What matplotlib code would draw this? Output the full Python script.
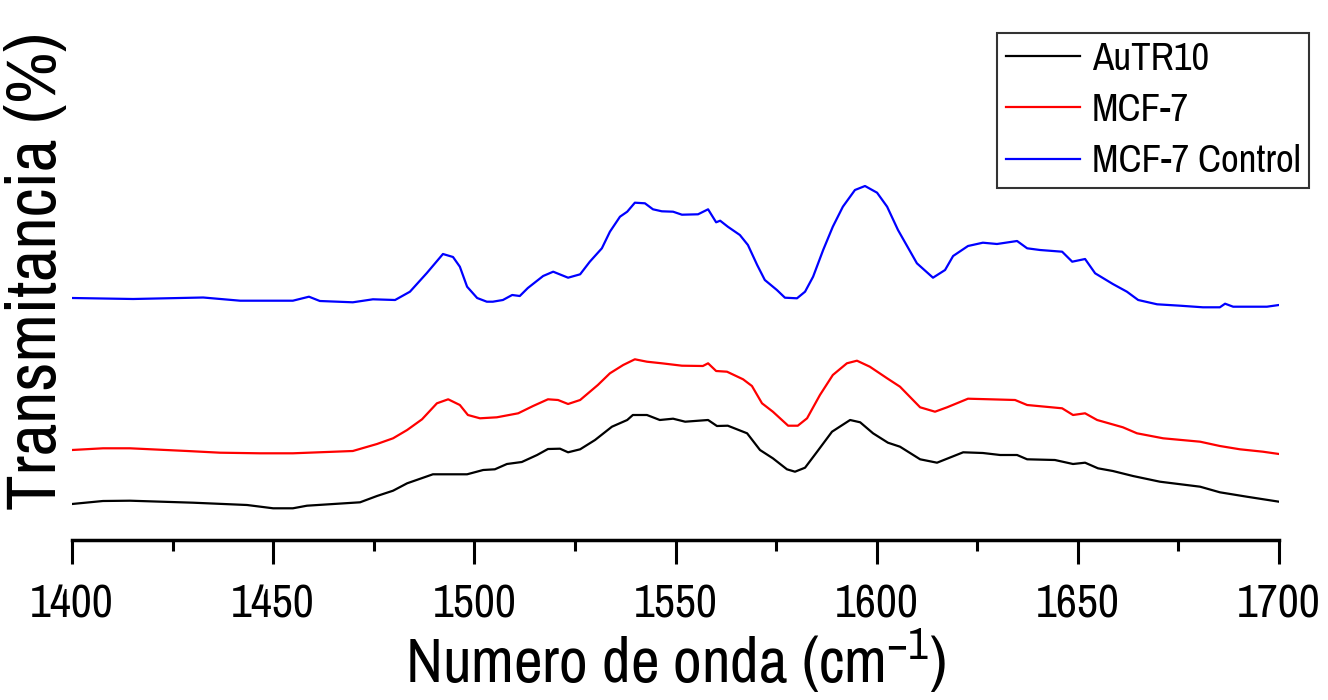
import matplotlib
matplotlib.use('Agg')
import matplotlib.pyplot as plt
from matplotlib.ticker import MultipleLocator

FONT = ['Archivo Narrow', 'Roboto Condensed', 'Liberation Sans', 'DejaVu Sans']
plt.rcParams['font.family'] = FONT

# numero de onda (cm-1) y transmitancia (unidades arbitrarias, con desplazamiento)
wn_ctrl = [1400, 1415.2, 1432.6, 1441.8, 1454.9, 1458.9, 1461.6, 1469.8, 1474.8, 1480.3,
           1484.0, 1488.2, 1492.2, 1494.7, 1496.4, 1498.2, 1500.7, 1503.1, 1504.6, 1507.1,
           1509.4, 1511.3, 1513.3, 1517.1, 1519.6, 1523.3, 1526.3, 1528.7, 1531.7, 1533.7,
           1536.2, 1538.0, 1539.9, 1542.4, 1544.4, 1546.6, 1549.4, 1551.6, 1555.6, 1558.1,
           1560.1, 1561.1, 1563.0, 1566.0, 1568.0, 1570.3, 1572.2, 1575.2, 1577.2, 1580.2,
           1582.2, 1584.2, 1586.7, 1589.1, 1591.6, 1594.6, 1597.1, 1600.1, 1602.6, 1605.3,
           1610.0, 1614.0, 1617.0, 1619.0, 1622.7, 1626.4, 1629.9, 1634.9, 1637.4, 1640.6,
           1646.1, 1648.6, 1651.8, 1654.3, 1658.7, 1662.2, 1665.0, 1669.7, 1675.4, 1681.1,
           1685.3, 1686.6, 1688.6, 1697.0, 1700]
t_ctrl = [24.2, 24.1, 24.25, 23.93, 23.93, 24.33, 23.9, 23.77, 24.07, 24.0,
          24.83, 26.7, 28.6, 28.3, 27.33, 25.33, 24.2, 23.83, 23.83, 24.0,
          24.5, 24.4, 25.2, 26.4, 26.83, 26.23, 26.57, 27.83, 29.17, 30.83,
          32.33, 32.83, 33.73, 33.67, 33.07, 32.87, 32.83, 32.53, 32.57, 33.07,
          31.77, 31.93, 31.33, 30.5, 29.5, 27.5, 26.0, 25.0, 24.23, 24.17,
          24.83, 26.33, 29.0, 31.33, 33.33, 35.0, 35.4, 34.73, 33.33, 31.0,
          27.67, 26.23, 27.0, 28.4, 29.4, 29.73, 29.6, 29.9, 29.17, 29.0,
          28.83, 27.83, 28.1, 26.67, 25.6, 24.83, 24.0, 23.57, 23.43, 23.27,
          23.27, 23.63, 23.33, 23.33, 23.5]

wn_mcf = [1400, 1407.7, 1414.4, 1428.6, 1436.8, 1446.7, 1454.9, 1469.8, 1475.8, 1479.8,
          1483.3, 1487.0, 1490.7, 1493.5, 1496.4, 1498.4, 1501.4, 1505.6, 1510.9, 1514.6,
          1518.3, 1520.8, 1523.3, 1526.3, 1530.7, 1533.7, 1537.0, 1539.9, 1542.9, 1546.6,
          1551.6, 1556.8, 1558.1, 1560.1, 1562.8, 1566.8, 1569.0, 1571.5, 1574.2, 1578.0,
          1580.4, 1582.7, 1585.9, 1589.1, 1592.6, 1595.1, 1598.3, 1602.6, 1605.8, 1610.8,
          1614.5, 1617.5, 1622.7, 1628.2, 1634.4, 1637.4, 1646.1, 1648.8, 1651.8, 1654.8,
          1661.2, 1664.7, 1671.2, 1680.4, 1685.3, 1690.3, 1696.0, 1700]
t_mcf = [9.0, 9.17, 9.17, 8.9, 8.73, 8.67, 8.67, 8.9, 9.6, 10.17,
         11.0, 12.07, 13.67, 14.07, 13.5, 12.5, 12.17, 12.27, 12.67, 13.4,
         14.07, 14.0, 13.6, 14.0, 15.5, 16.67, 17.5, 18.07, 17.83, 17.67,
         17.43, 17.4, 17.67, 16.9, 16.83, 16.07, 15.4, 13.67, 12.83, 11.43,
         11.43, 12.17, 14.5, 16.5, 17.67, 17.93, 17.33, 16.17, 15.33, 13.27,
         12.83, 13.27, 14.13, 14.07, 14.0, 13.5, 13.17, 12.5, 12.67, 12.0,
         11.27, 10.67, 10.17, 9.83, 9.4, 9.07, 8.83, 8.6]

wn_au = [1400, 1407.7, 1414.4, 1430.1, 1443.5, 1450.0, 1454.9, 1458.4, 1471.6, 1475.8,
         1479.8, 1483.3, 1489.7, 1498.2, 1502.2, 1505.1, 1508.1, 1511.8, 1515.6, 1518.3,
         1521.3, 1523.3, 1526.3, 1530.0, 1534.2, 1538.0, 1539.4, 1542.9, 1546.1, 1549.4,
         1552.4, 1558.1, 1560.3, 1563.0, 1567.8, 1571.0, 1574.2, 1577.7, 1579.7, 1582.2,
         1585.2, 1588.9, 1593.4, 1595.9, 1599.1, 1602.8, 1605.8, 1610.8, 1615.0, 1617.5,
         1621.5, 1626.4, 1630.7, 1634.9, 1637.4, 1644.3, 1648.8, 1651.8, 1655.0, 1658.7,
         1663.7, 1670.4, 1680.4, 1685.3, 1692.0, 1700]
t_au = [3.6, 3.9, 3.93, 3.73, 3.5, 3.17, 3.17, 3.43, 3.77, 4.4,
        4.93, 5.67, 6.57, 6.57, 7.0, 7.07, 7.6, 7.8, 8.5, 9.1,
        9.13, 8.77, 9.07, 10.0, 11.33, 12.0, 12.5, 12.5, 12.0, 12.13,
        11.83, 12.0, 11.4, 11.43, 10.67, 9.0, 8.17, 7.07, 6.83, 7.23,
        8.83, 10.83, 12.0, 11.77, 10.67, 9.73, 9.33, 8.07, 7.73, 8.13,
        8.77, 8.7, 8.5, 8.5, 8.07, 8.0, 7.6, 7.73, 7.17, 6.9,
        6.4, 5.83, 5.33, 4.77, 4.33, 3.83]

series = [
    (wn_au, t_au, 'AuTR10', 'black'),
    (wn_mcf, t_mcf, 'MCF-7', 'red'),
    (wn_ctrl, t_ctrl, 'MCF-7 Control', 'blue'),
]

fig = plt.figure(figsize=(13.28, 7), dpi=100)
ax = fig.add_axes([72 / 1328, 160 / 700, 1207 / 1328, 540 / 700])

for wn, t, lab, col in series:
    ax.plot(wn, t, color=col, lw=1.6, label=lab)

ax.set_xlim(1400, 1700)
ax.set_ylim(0, 54)
ax.xaxis.set_major_locator(MultipleLocator(50))
ax.xaxis.set_minor_locator(MultipleLocator(25))
ax.tick_params(axis='x', which='major', direction='out', length=17, width=2.2, pad=14,
               labelsize=33)
ax.tick_params(axis='x', which='minor', direction='out', length=8, width=2.2)
ax.set_yticks([])
for s in ['left', 'top', 'right']:
    ax.spines[s].set_visible(False)
ax.spines['bottom'].set_linewidth(2.5)

ax.set_xlabel(r'Numero de onda (cm$^{\mathregular{-1}}$)', fontsize=45, labelpad=1)
fig.text(37 / 1328, 0.613, 'Transmitancia (%)', rotation=90, ha='center', va='center',
         fontsize=51)

leg = ax.legend(loc='upper right', bbox_to_anchor=(1309 / 1328, 667 / 700),
                bbox_transform=fig.transFigure, prop={'size': 28},
                frameon=True, fancybox=False, edgecolor='black', handlelength=1.9,
                handletextpad=0.3, labelspacing=0.42, borderpad=0.22, borderaxespad=0)
leg.get_frame().set_linewidth(1.5)

fig.savefig('out.png', dpi=100)
